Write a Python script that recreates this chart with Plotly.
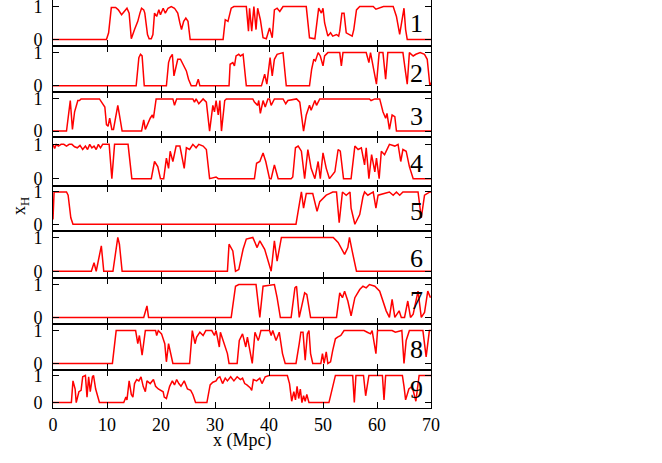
import plotly.graph_objects as go

# ---------------- data (x in Mpc, neutral fraction x_H) ----------------
p1_x = [0, 9.9, 10.3, 10.8, 11.6, 12.1, 12.7, 13.4, 13.7, 14.1, 14.5, 15.1, 15.7, 16.1, 16.4, 16.8, 17.0, 17.5, 17.8, 18.2,
        18.5, 18.8, 19.2, 19.6, 19.9, 20.4, 20.8, 21.3, 21.9, 22.5, 23.1, 23.5, 23.8, 24.2, 24.6, 25.0, 25.4, 31.5, 31.9,
        32.4, 33.0, 33.5, 35.8, 36.2, 36.4, 36.8, 37.2, 37.6, 37.9, 38.4, 38.9, 39.5, 40.1, 40.6, 41.0, 41.5, 42.0, 42.6,
        46.9, 47.5, 48.5, 49.2, 49.7, 50.0, 50.3, 50.9, 51.4, 51.8, 52.5, 52.9, 53.1, 53.5, 53.9, 54.3, 54.9, 55.4, 55.7,
        56.2, 56.8, 59.3, 59.8, 60.5, 61.2, 63.0, 63.6, 64.2, 64.6, 65.0, 65.3, 65.6, 70]
p1_y = [0, 0, 0.2, 0.97, 0.97, 0.9, 0.75, 0.9, 0.95, 0.8, 0.02, 0.3, 0.55, 0.8, 0.95, 0.9, 0.8, 0.15, 0.02, 0.02,
        0.15, 0.8, 0.7, 0.9, 0.75, 0.95, 0.8, 0.95, 1.0, 0.95, 0.8, 0.5, 0.3, 0.55, 0.65, 0.55, 0, 0, 0.6,
        0.55, 0.95, 1.0, 1.0, 0.25, 0.95, 0.25, 1.0, 0.3, 0.95, 0.6, 0.05, 0.02, 0.35, 0.05, 0.9, 0.95, 0.85, 1.0,
        1.0, 0.05, 0.02, 0.95, 0.8, 0.95, 0.5, 0.1, 0.2, 0.1, 0.15, 0.1, 0.25, 0.8, 0.8, 0.2, 0.15, 0.1, 0.3,
        0.9, 1.0, 1.0, 0.92, 0.97, 1.0, 1.0, 0.7, 0.15, 0.5, 0.95, 0.3, 0, 0]

p2_x = [0, 15.4, 15.9, 16.2, 16.5, 16.9, 21.0, 21.4, 21.7, 22.1, 22.4, 22.7, 23.1, 23.6, 23.9, 24.4, 24.7, 25.1, 25.6,
        26.5, 26.9, 27.2, 32.6, 32.8, 33.3, 33.6, 33.9, 34.4, 34.7, 35.2, 35.8, 38.6, 39.2, 39.6, 40.2, 40.6, 41.0, 41.5,
        42.3, 42.6, 43.2, 47.5, 47.9, 48.3, 48.6, 49.1, 49.5, 50.0, 50.3, 50.9, 53.1, 53.4, 53.7, 58.0, 58.5, 58.8, 59.9,
        60.4, 61.1, 61.6, 62.0, 64.8, 65.3, 65.6, 66.0, 66.7, 67.2, 68.0, 68.8, 69.3, 69.8, 70]
p2_y = [0, 0, 0.85, 0.95, 0.9, 0, 0, 0.7, 0.85, 0.95, 0.3, 0.5, 0.8, 0.8, 0.7, 0.55, 0.45, 0.2, 0,
        0, 0.2, 0, 0, 0.65, 0.7, 0.6, 0.9, 0.95, 0.9, 0.95, 0, 0, 0.35, 0.05, 0.85, 0.3, 0.8, 0.95,
        1.0, 1.0, 0, 0, 0.5, 0.8, 0.75, 1.0, 0.9, 0.6, 0.9, 1.0, 1.0, 0.6, 1.0, 1.0, 0.7, 1.0, 0.05,
        1.0, 1.0, 0.2, 1.0, 1.0, 0.4, 0.05, 1.0, 0.9, 0.95, 1.0, 0.95, 0.8, 0.0, 0.1]

p3_x = [0, 2.5, 3.2, 3.6, 4.0, 4.6, 4.9, 5.2, 8.6, 9.3, 9.6, 9.9, 10.2, 10.5, 10.9, 11.2, 11.7, 12.0, 12.3, 12.8,
        16.4, 16.8, 17.1, 17.6, 18.0, 18.4, 18.6, 19.1, 22.2, 22.5, 22.9, 25.9, 26.2, 26.5, 27.0, 27.8, 28.4, 29.0,
        29.6, 29.9, 30.2, 30.6, 30.9, 31.2, 31.8, 32.1, 37.0, 37.3, 37.9, 38.1, 38.4, 38.9, 39.3, 39.8, 40.1, 40.4,
        41.0, 42.6, 43.1, 43.5, 45.1, 45.7, 46.4, 46.9, 47.5, 47.8, 48.5, 48.8, 49.4, 58.6, 58.9, 59.6, 60.5, 61.1,
        61.6, 61.85, 62.3, 62.8, 63.3, 63.6, 70]
p3_y = [0, 0, 0.95, 0.05, 0.6, 0.95, 0.95, 1.0, 1.0, 0.85, 0.75, 0.2, 0.15, 0.4, 0.05, 0.05, 0.6, 0.8, 0.5, 0,
        0, 0.35, 0.05, 0.25, 0.4, 0.5, 0.4, 1.0, 1.0, 0.8, 1.0, 1.0, 0.9, 1.0, 0.85, 1.0, 0.9, 0,
        0.8, 0.6, 0.95, 0.5, 0.95, 0, 0.95, 1.0, 1.0, 0.9, 0.8, 0.95, 0.55, 0.95, 0.75, 1.0, 1.0, 0.8,
        1.0, 1.0, 0.85, 0.95, 1.0, 0.9, 0, 0.5, 0.8, 0.65, 0.95, 0.8, 1.0, 1.0, 0.95, 1.0, 1.0, 0.6,
        0.4, 0.55, 0.05, 0.5, 0.45, 0, 0]

p4_x = [0, 0.3, 0.6, 1.0, 1.5, 2.0, 2.5, 3.0, 3.5, 4.0, 4.5, 5.0, 5.5, 6.0, 6.4, 6.8, 7.2, 7.6, 8.0, 8.4, 8.8, 9.2,
        10.4, 10.9, 11.4, 13.9, 14.6, 18.2, 18.8, 19.4, 19.9, 20.5, 21.0, 21.4, 21.7, 22.2, 22.8, 23.5, 24.3, 24.7,
        25.3, 25.9, 26.5, 27.0, 27.8, 28.4, 29.0, 30.2, 30.6, 37.3, 37.7, 38.3, 38.9, 39.4, 40.1, 40.4, 41.0, 41.7,
        44.1, 44.4, 44.9, 45.4, 46.0, 46.6, 47.2, 47.8, 48.5, 49.1, 49.5, 50.0, 50.6, 51.2, 52.2, 52.8, 53.2, 53.8,
        55.2, 55.9, 56.5, 57.1, 57.7, 58.0, 58.5, 59.0, 59.6, 59.9, 60.4, 60.8, 61.4, 62.3, 63.3, 63.9, 64.4, 64.8,
        65.4, 66.0, 66.7, 70]
p4_y = [1.0, 0.88, 1.0, 0.95, 1.0, 1.0, 0.95, 1.0, 1.0, 0.93, 0.9, 0.97, 0.85, 0.95, 0.85, 1.0, 0.9, 0.95, 0.85, 1.0, 0.9, 1.0,
        1.0, 0, 1.0, 1.0, 0, 0, 0.5, 0.35, 0, 0, 0.6, 0.3, 0.8, 0.5, 0.95, 0.95, 0.3, 0.9,
        0.85, 1.0, 0.9, 1.0, 0.95, 0.85, 0, 0.05, 0, 0, 0.45, 0.5, 0.75, 0.5, 0, 0, 0.4, 0,
        0, 0.05, 0.9, 0.95, 0.8, 0, 0.85, 0.3, 0, 0.5, 0, 0.75, 0.3, 0, 0.2, 0.85, 0.8, 0,
        0, 0.95, 0.85, 0.9, 0.4, 0.9, 0, 0.7, 0.2, 0.6, 0, 0.8, 0.7, 1.0, 0.95, 1.0, 0.5, 0.85,
        0.8, 0.35, 0, 0]

p5_x = [0, 0.2, 2.5, 2.8, 3.3, 3.7, 45.0, 45.2, 45.8, 46.0, 46.4, 46.9, 48.1, 48.9, 49.4, 50.0, 50.6, 51.2, 51.8,
        52.5, 53.0, 53.6, 54.3, 55.0, 55.2, 55.9, 56.8, 57.4, 57.7, 58.3, 59.3, 59.8, 60.2, 62.3, 63.0, 63.6, 64.2,
        64.8, 67.6, 68.2, 68.8, 69.8, 70]
p5_y = [0.15, 1.0, 1.0, 0.9, 0.2, 0, 0, 0.2, 0.9, 1.0, 0.5, 0.95, 0.95, 0.4, 0.7, 0.8, 0.9, 0.95, 1.0,
        1.0, 0.05, 1.0, 0.9, 1.0, 0.5, 0, 0.3, 0.85, 1.0, 0.9, 1.0, 0.5, 0.9, 1.0, 0.9, 1.0, 0.9,
        1.0, 1.0, 0.2, 0.9, 1.0, 1.0]

p6_x = [0, 7.1, 7.6, 8.0, 8.95, 9.4, 11.1, 12.0, 12.3, 12.8, 32.3, 32.6, 33.3, 33.8, 34.4, 35.2, 35.8, 37.0, 37.8,
        38.3, 39.2, 39.8, 40.4, 41.0, 41.5, 42.3, 51.9, 52.8, 54.0, 54.6, 54.9, 55.4, 56.2, 70]
p6_y = [0, 0, 0.25, 0, 0.75, 0, 0, 1.0, 0.8, 0, 0, 0.8, 0.6, 0, 0.05, 0.65, 0.95, 1.0, 0.7,
        0.9, 0.65, 0.3, 0, 0.9, 0.3, 1.0, 1.0, 0.85, 0.5, 0.7, 1.0, 0.6, 0, 0]

p7_x = [0, 16.8, 17.4, 17.7, 33.0, 33.8, 34.4, 37.6, 38.3, 38.9, 41.0, 41.5, 42.1, 44.1, 44.8, 45.1, 45.6, 46.6, 47.0,
        47.7, 52.5, 53.1, 53.6, 54.0, 54.6, 55.2, 55.9, 56.8, 57.4, 58.0, 58.6, 59.6, 60.5, 61.1, 61.7, 62.3, 62.8,
        63.3, 64.1, 64.5, 65.1, 65.7, 66.2, 66.7, 67.6, 68.2, 68.8, 69.4, 69.9]
p7_y = [0, 0, 0.35, 0, 0, 0.95, 1.0, 1.0, 0, 0.95, 1.0, 0.6, 0, 0, 0.9, 0.95, 0, 0.75, 0.7,
        0, 0, 0.75, 0.6, 0.8, 0.5, 0.05, 0.6, 0.85, 0.95, 0.9, 1.0, 0.95, 0.8, 0.5, 0.2, 0, 0.55,
        0, 0.2, 0, 0, 0.5, 0, 0.1, 0.8, 0, 0.15, 0.8, 0.6]

p8_x = [0, 11.0, 11.7, 15.3, 15.7, 16.0, 16.5, 17.1, 19.0, 19.2, 19.5, 20.1, 20.7, 21.0, 21.4, 22.2, 25.3, 25.8,
        26.3, 26.6, 27.2, 27.8, 28.3, 29.4, 29.9, 30.2, 30.8, 31.0, 32.3, 32.6, 34.1, 34.5, 35.1, 35.7, 36.0, 36.9,
        37.4, 38.0, 38.2, 38.5, 40.1, 40.4, 40.7, 41.3, 41.9, 42.2, 42.5, 43.0, 45.0, 45.6, 45.9, 46.3, 46.7, 47.1,
        47.4, 47.7, 48.1, 49.6, 49.9, 50.2, 50.6, 50.9, 51.4, 51.8, 52.3, 52.7, 53.3, 53.9, 57.6, 58.2, 58.8, 59.1,
        59.4, 59.8, 60.1, 62.8, 63.4, 64.6, 65.0, 65.4, 66.0, 68.5, 69.1, 69.7, 70]
p8_y = [0, 0, 1.0, 1.0, 0.6, 0.85, 0.25, 1.0, 1.0, 0.85, 1.0, 0.9, 0.6, 0.05, 0.6, 0, 0, 1.0,
        0.6, 0.8, 0.95, 0.85, 1.0, 1.0, 0.85, 1.0, 0.5, 0.95, 0.3, 0, 0, 0.7, 0.9, 0.5, 0.8, 0,
        0.95, 0.7, 0.8, 1.0, 1.0, 0.85, 1.0, 0.7, 0.95, 0.6, 0.3, 0, 0, 0.6, 0.95, 0.95, 0.1, 0.9,
        1.0, 0.3, 0, 0, 0.3, 0, 0.35, 0, 0.05, 0.4, 0.75, 0.8, 0.85, 1.0, 1.0, 0.95, 0.9, 1.0,
        0.7, 0.3, 1.0, 1.0, 0.95, 1.0, 0, 0.7, 1.0, 1.0, 0.2, 1.0, 1.0]

p9_x = [0, 3.4, 3.7, 4.1, 4.3, 4.8, 5.2, 5.5, 6.0, 6.3, 6.6, 6.9, 7.3, 7.5, 7.9, 8.3, 8.6, 13.1, 13.5, 13.7, 14.1,
        14.5, 14.8, 15.1, 15.5, 15.9, 16.3, 16.7, 17.1, 17.4, 18.0, 18.6, 19.0, 19.5, 19.9, 20.4, 20.6, 21.0, 21.6,
        22.1, 22.5, 22.9, 23.3, 23.7, 24.3, 24.9, 25.5, 25.9, 26.4, 28.5, 29.1, 29.6, 30.2, 30.5, 30.9, 31.4, 31.9,
        32.3, 32.9, 33.5, 34.1, 34.7, 35.1, 35.5, 35.9, 36.5, 36.8, 37.1, 37.7, 38.3, 38.7, 39.3, 40.0, 43.4, 43.8,
        44.2, 44.6, 44.9, 45.2, 45.5, 45.8, 46.1, 46.4, 46.7, 47.0, 47.4, 51.1, 51.7, 52.3, 55.5, 55.8, 56.1, 57.5,
        57.9, 58.5, 61.0, 61.3, 61.6, 64.7, 65.0, 65.3, 65.9, 66.5, 67.2, 67.8, 70]
p9_y = [0, 0, 0.8, 0.5, 0, 0.4, 0.45, 0.95, 1.0, 0.2, 0.95, 0.4, 0.95, 1.0, 0.5, 0.2, 0, 0, 0.2, 0.1, 0.8,
        0.3, 0.2, 0.7, 0.85, 0.8, 0.95, 0.6, 0.4, 0.8, 0.7, 0.85, 0.6, 0.5, 0.45, 0.4, 0.2, 0.15, 0.6,
        0.8, 0.65, 0.85, 0.7, 0.6, 0.8, 0.5, 0.45, 0.3, 0, 0, 0.65, 0.75, 0.8, 0.9, 0.95, 0.7, 0.9,
        0.8, 0.95, 0.8, 0.95, 0.85, 0.9, 0.7, 0.65, 0.55, 0.45, 0.85, 0.8, 0.9, 0.7, 0.95, 1.0, 1.0, 0.7,
        0.05, 0.4, 0.1, 0.6, 0.15, 0.5, 0, 0.25, 0.05, 0.3, 0, 0, 0.5, 1.0, 1.0, 0, 1.0, 1.0,
        0.25, 1.0, 1.0, 0.1, 1.0, 1.0, 0.6, 0.1, 0.5, 0.6, 0.05, 1.0, 1.0]

panel_names = ["1", "2", "3", "4", "5", "6", "7", "8", "9"]
label_y = [0.47, 0.38, 0.44, 0.43, 0.39, 0.39, 0.52, 0.42, 0.5]
x_tickvals = [0, 10, 20, 30, 40, 50, 60, 70]
x_ticktext = ["0", "10", "20", "30", "40", "50", "60", "70"]
y_tickvals = [0, 1]
y_ticktext = ["0", "1"]

series_x = [p1_x, p2_x, p3_x, p4_x, p5_x, p6_x, p7_x, p8_x, p9_x]
series_y = [p1_y, p2_y, p3_y, p4_y, p5_y, p6_y, p7_y, p8_y, p9_y]

# panel domains (paper fraction, top panel first)
bounds = [1.0, 0.8873, 0.7733, 0.6630, 0.5453, 0.4346, 0.3186, 0.2059, 0.0931, 0.0]

FONT = "Liberation Serif"
FS = 18
L, R, T, B = 53, 231, 0, 55
W, H = 662, 463
PW, PH = W - L - R, H - T - B

fig = go.Figure()
layout = dict(
    width=W, height=H,
    margin=dict(l=L, r=R, t=T, b=B, autoexpand=False),
    paper_bgcolor="white", plot_bgcolor="white",
    showlegend=False,
    font=dict(family=FONT, size=FS, color="black"),
)
annotations = []
for i in range(9):
    n = i + 1
    xs = "x" if n == 1 else f"x{n}"
    ys = "y" if n == 1 else f"y{n}"
    fig.add_trace(go.Scatter(x=series_x[i], y=series_y[i], mode="lines",
                             line=dict(color="#ff0000", width=1.5),
                             xaxis=xs, yaxis=ys, hoverinfo="skip"))
    last = (n == 9)
    layout[f"xaxis{'' if n == 1 else n}"] = dict(
        domain=[0, 1], anchor=ys, range=[0, 70], automargin=False,
        tickvals=x_tickvals, ticktext=x_ticktext, showticklabels=last,
        ticks="inside", ticklen=6, tickcolor="black", tickwidth=1,
        showline=True, linecolor="black", linewidth=1,
        mirror=("allticks" if n != 1 else False),
        showgrid=False, zeroline=False, ticklabeloverflow="allow",
        tickfont=dict(family=FONT, size=FS),
    )
    layout[f"yaxis{'' if n == 1 else n}"] = dict(
        domain=[bounds[n], bounds[i]], anchor=xs, range=[-0.2, 1.2], automargin=False,
        tickvals=y_tickvals, ticktext=y_ticktext,
        ticks="inside", ticklen=6, tickcolor="black", tickwidth=1,
        showline=True, linecolor="black", linewidth=1, mirror="allticks",
        showgrid=False, zeroline=False, ticklabeloverflow="allow",
        tickfont=dict(family=FONT, size=FS), ticklabelstandoff=6,
    )
    annotations.append(dict(x=67.3, y=label_y[i], xref=xs, yref=ys, text=panel_names[i],
                            showarrow=False, font=dict(family=FONT, size=26, color="black"),
                            xanchor="center", yanchor="middle"))

# axis titles
annotations.append(dict(x=(20 - L) / PW, y=(PH - 206) / PH, xref="paper", yref="paper",
                        text="x<sub>H</sub>", showarrow=False, textangle=-90,
                        xanchor="center", yanchor="middle",
                        font=dict(family=FONT, size=FS, color="black")))
annotations.append(dict(x=(242 - L) / PW, y=(PH - 440) / PH, xref="paper", yref="paper",
                        text="x (Mpc)", showarrow=False,
                        xanchor="center", yanchor="middle",
                        font=dict(family=FONT, size=FS, color="black")))
layout["annotations"] = annotations
fig.update_layout(**layout)
fig.write_html("out.html", config={"displayModeBar": False},
               post_script="document.body.style.margin='0px';")
